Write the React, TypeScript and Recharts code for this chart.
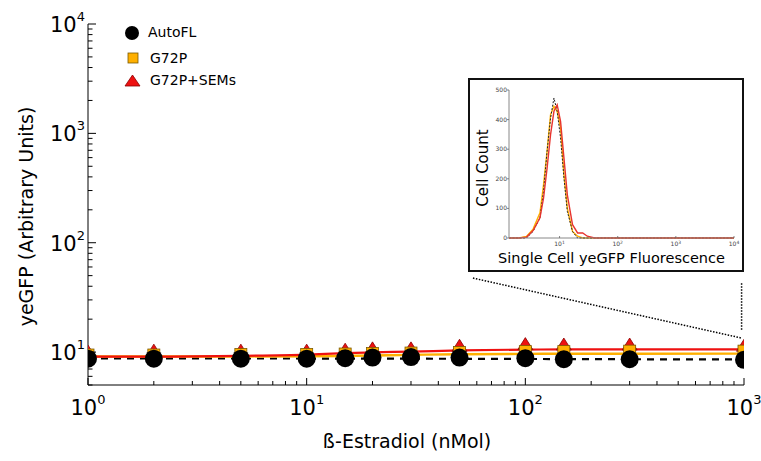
import React from 'react';
import {
  ComposedChart, LineChart, Line, Scatter, XAxis, YAxis, ReferenceLine, Label,
} from 'recharts';

const FONT = '"DejaVu Sans", Verdana, sans-serif';

// main dose-response panel
const doses = [1, 2, 5, 10, 15, 20, 30, 50, 100, 150, 300, 1000];
const autoFL = [8.7, 8.7, 8.7, 8.7, 8.8, 8.9, 9.0, 8.9, 8.8, 8.6, 8.6, 8.5];
const g72p = [9.4, 9.4, 9.5, 9.5, 9.6, 9.7, 9.8, 9.9, 10.1, 10.1, 10.2, 10.2];
const g72pSems = [10.0, 10.2, 10.2, 10.2, 10.4, 10.7, 10.7, 11.3, 11.7, 11.6, 11.6, 11.3];

// fitted curves
const fitDoses = [1, 2, 5, 10, 15, 20, 30, 50, 100, 150, 300, 1000];
const autoFit = [8.75, 8.75, 8.74, 8.73, 8.72, 8.71, 8.7, 8.68, 8.65, 8.63, 8.6, 8.57];
const g72pFit = [9.1, 9.1, 9.12, 9.15, 9.23, 9.31, 9.43, 9.55, 9.63, 9.65, 9.66, 9.67];
const semsFit = [9.1, 9.1, 9.23, 9.49, 9.79, 9.94, 10.1, 10.36, 10.54, 10.58, 10.6, 10.6];

const xMajor = [1, 10, 100, 1000];
const xMinor = [2, 3, 4, 5, 6, 7, 8, 9, 20, 30, 40, 50, 60, 70, 80, 90, 200, 300, 400, 500, 600, 700, 800, 900];
const yMajor = [10, 100, 1000, 10000];
const yMinor = [5, 6, 7, 8, 9, 20, 30, 40, 50, 60, 70, 80, 90, 200, 300, 400, 500, 600, 700, 800, 900,
  2000, 3000, 4000, 5000, 6000, 7000, 8000, 9000];

// inset histogram
const fluorBins = [1.35, 2, 2.7, 3.5, 4.6, 5.3, 6.1, 7, 8, 9.1, 10.4, 11.9, 13.6, 16.7, 20.4, 25, 30, 40, 100, 1000, 10000];
const autoHist = [0, 0, 0, 22, 68, 158, 293, 405, 473, 428, 338, 203, 90, 22, 0, 0, 0, 0, 0, 0, 0];
const g72pHist = [0, 0, 5, 30, 85, 180, 293, 417, 445, 428, 372, 214, 101, 22, 6, 0, 0, 0, 0, 0, 0];
const semsHist = [0, 0, 3, 25, 68, 135, 236, 349, 428, 450, 394, 270, 146, 45, 17, 17, 6, 0, 0, 0, 0];
const insetXTicks = [10, 100, 1000, 10000];
const insetYTicks = [0, 100, 200, 300, 400, 500];

const pts = (xs: number[], ys: number[]) => xs.map((x, i) => ({ x, y: ys[i] }));
const histData = fluorBins.map((x, i) => ({ x, auto: autoHist[i], g72p: g72pHist[i], sems: semsHist[i] }));

const ORANGE = '#ffb000';
const RED = '#ee1111';

const exp10 = (v: number) => Math.round(Math.log10(v));

const XTick = (props: any) => {
  const { x, y, payload } = props;
  const major = xMajor.includes(payload.value);
  return (
    <g>
      <line x1={x} x2={x} y1={y} y2={y - (major ? 7 : 4)} stroke="#000" strokeWidth={1} />
      {major && (
        <text x={x} y={y + 30} textAnchor="middle" fontSize={21} fontFamily={FONT} fill="#000">
          10<tspan dy={-11} fontSize={13}>{exp10(payload.value)}</tspan>
        </text>
      )}
    </g>
  );
};

const YTick = (props: any) => {
  const { x, y, payload } = props;
  const major = yMajor.includes(payload.value);
  return (
    <g>
      <line x1={x} x2={x + (major ? 8 : 4.5)} y1={y} y2={y} stroke="#000" strokeWidth={1} />
      {major && (
        <text x={x - 3} y={y + 8} textAnchor="end" fontSize={21} fontFamily={FONT} fill="#000">
          10<tspan dy={-11} fontSize={13}>{exp10(payload.value)}</tspan>
        </text>
      )}
    </g>
  );
};

const InsetXTick = (props: any) => {
  const { x, y, payload } = props;
  return (
    <g>
      <line x1={x} x2={x} y1={y} y2={y - 2} stroke="#666" strokeWidth={0.8} />
      <text x={x} y={y + 8} textAnchor="middle" fontSize={6} fontFamily={FONT} fill="#444">
        10<tspan dy={-2.5} fontSize={4.5}>{exp10(payload.value)}</tspan>
      </text>
    </g>
  );
};

const InsetYTick = (props: any) => {
  const { x, y, payload } = props;
  return (
    <g>
      <line x1={x} x2={x - 2} y1={y} y2={y} stroke="#666" strokeWidth={0.8} />
      <text x={x - 2} y={y + 2} textAnchor="end" fontSize={6} fontFamily={FONT} fill="#444">
        {payload.value}
      </text>
    </g>
  );
};

const Dot = (props: any) => <circle cx={props.cx} cy={props.cy} r={9} fill="#000" />;
const Sq = (props: any) => (
  <rect x={props.cx - 6} y={props.cy - 6} width={12} height={12} fill={ORANGE} stroke="#7a5a00" strokeWidth={0.8} />
);
const Tri = (props: any) => (
  <polygon
    points={`${props.cx},${props.cy - 7} ${props.cx - 7.5},${props.cy + 5} ${props.cx + 7.5},${props.cy + 5}`}
    fill={RED}
    stroke="#8a0000"
    strokeWidth={0.8}
  />
);

const Inset = () => (
  <div
    style={{
      position: 'absolute', left: 468, top: 78, width: 276, height: 194,
      border: '2px solid #111', boxSizing: 'border-box', background: '#fff',
    }}
  >
    <LineChart width={272} height={190} data={histData} margin={{ top: 10, right: 8, bottom: 0, left: 0 }}>
      <XAxis
        dataKey="x" type="number" scale="log" domain={[1.35, 10000]} allowDataOverflow
        ticks={insetXTicks} interval={0} tick={<InsetXTick />} tickSize={0} tickMargin={0}
        tickLine={false} axisLine={{ stroke: '#888', strokeWidth: 1 }} height={32}
      >
        <Label
          content={({ viewBox }: any) => (
            <text x={viewBox.x + viewBox.width / 2 - 10} y={viewBox.y + 25} textAnchor="middle"
              fontSize={14.5} fontFamily={FONT} fill="#000">
              Single Cell yeGFP Fluorescence
            </text>
          )}
        />
      </XAxis>
      <YAxis
        type="number" domain={[0, 500]} ticks={insetYTicks} interval={0} tick={<InsetYTick />}
        tickSize={0} tickMargin={0} tickLine={false} axisLine={{ stroke: '#888', strokeWidth: 1 }} width={39}
      >
        <Label
          content={({ viewBox }: any) => {
            const cx = 18;
            const cy = viewBox.y + viewBox.height / 2 + 4;
            return (
              <text x={cx} y={cy} transform={`rotate(-90 ${cx} ${cy})`} textAnchor="middle"
                fontSize={15} fontFamily={FONT} fill="#000">
                Cell Count
              </text>
            );
          }}
        />
      </YAxis>
      <Line dataKey="g72p" stroke={ORANGE} strokeWidth={1.4} dot={false} isAnimationActive={false} />
      <Line dataKey="auto" stroke="#222" strokeWidth={1} strokeDasharray="2 1.5" dot={false} isAnimationActive={false} />
      <Line dataKey="sems" stroke="#e8342e" strokeWidth={1.4} dot={false} isAnimationActive={false} />
    </LineChart>
  </div>
);

const Legend = () => (
  <svg width={300} height={100} style={{ position: 'absolute', left: 0, top: 0 }}>
    <circle cx={132} cy={33} r={7} fill="#000" />
    <text x={148} y={37} fontSize={14} fontFamily={FONT}>AutoFL</text>
    <rect x={128} y={53} width={10} height={10} fill={ORANGE} stroke="#7a5a00" strokeWidth={0.8} />
    <text x={150} y={63} fontSize={14} fontFamily={FONT}>G72P</text>
    <polygon points="132.5,75 125,86 140,86" fill={RED} stroke="#8a0000" strokeWidth={0.8} />
    <text x={150} y={85} fontSize={14} fontFamily={FONT}>G72P+SEMs</text>
  </svg>
);

export default function App() {
  return (
    <div style={{ position: 'absolute', left: 0, top: 0, width: 761, height: 461, background: '#fff' }}>
      <ComposedChart width={761} height={461} margin={{ top: 24, right: 17, bottom: 0, left: 0 }}>
        <XAxis
          dataKey="x" type="number" scale="log" domain={[1, 1000]} allowDataOverflow
          ticks={[...xMajor, ...xMinor]} interval={0} tick={<XTick />} tickSize={0} tickMargin={0}
          tickLine={false} axisLine={{ stroke: '#000', strokeWidth: 1 }} height={76}
        >
          <Label
            content={({ viewBox }: any) => (
              <text x={viewBox.x + viewBox.width / 2 - 9} y={viewBox.y + 63} textAnchor="middle"
                fontSize={19} fontFamily={FONT} fill="#000">
                ß-Estradiol (nMol)
              </text>
            )}
          />
        </XAxis>
        <YAxis
          dataKey="y" type="number" scale="log" domain={[5, 10000]} allowDataOverflow
          ticks={[...yMajor, ...yMinor]} interval={0} tick={<YTick />} tickSize={0} tickMargin={0}
          tickLine={false} axisLine={{ stroke: '#000', strokeWidth: 1 }} width={88}
        >
          <Label
            content={({ viewBox }: any) => {
              const cx = 33;
              const cy = viewBox.y + viewBox.height / 2 + 12;
              return (
                <text x={cx} y={cy} transform={`rotate(-90 ${cx} ${cy})`} textAnchor="middle"
                  fontSize={19} fontFamily={FONT} fill="#000">
                  yeGFP (Arbitrary Units)
                </text>
              );
            }}
          />
        </YAxis>
        <ReferenceLine
          segment={[{ x: 57.6, y: 47.5 }, { x: 980, y: 13.4 }]}
          stroke="#000" strokeWidth={1.5} strokeDasharray="1.5 1.5" ifOverflow="visible"
        />
        <ReferenceLine
          segment={[{ x: 975, y: 42.7 }, { x: 975, y: 15.9 }]}
          stroke="#000" strokeWidth={1.5} strokeDasharray="1.5 1.5" ifOverflow="visible"
        />
        <Line data={pts(fitDoses, autoFit)} dataKey="y" type="monotone" stroke="#000" strokeWidth={2.2}
          strokeDasharray="7 6" dot={false} isAnimationActive={false} />
        <Line data={pts(fitDoses, g72pFit)} dataKey="y" type="monotone" stroke={ORANGE} strokeWidth={2.4}
          dot={false} isAnimationActive={false} />
        <Line data={pts(fitDoses, semsFit)} dataKey="y" type="monotone" stroke={RED} strokeWidth={2.2}
          dot={false} isAnimationActive={false} />
        <Scatter data={pts(doses, g72pSems)} dataKey="y" shape={Tri} isAnimationActive={false} />
        <Scatter data={pts(doses, g72p)} dataKey="y" shape={Sq} isAnimationActive={false} />
        <Scatter data={pts(doses, autoFL)} dataKey="y" shape={Dot} isAnimationActive={false} />
      </ComposedChart>
      <Legend />
      <Inset />
    </div>
  );
}
